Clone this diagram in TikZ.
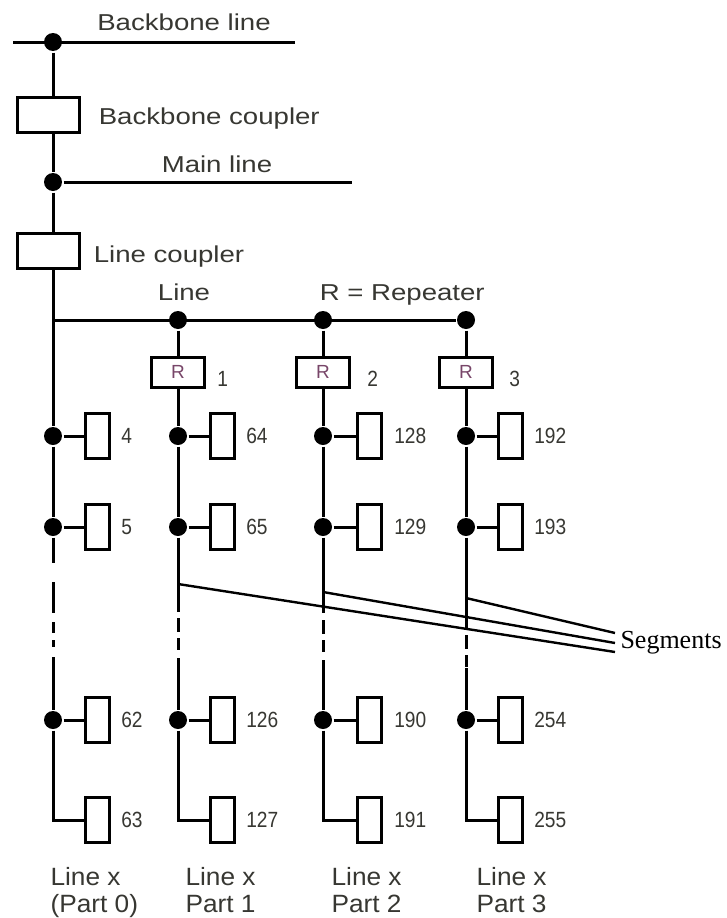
\documentclass[tikz,border=0pt]{standalone}
\usepackage{fontspec}
\setmainfont{Liberation Sans}
\newfontfamily\segserif{Liberation Serif}
\definecolor{textgray}{RGB}{55,55,50}
\definecolor{rpurple}{RGB}{120,70,105}

\begin{document}
\begin{tikzpicture}[x=1pt,y=-1pt,line width=3pt,
	junction/.style={circle,fill,inner sep=0pt,minimum size=18pt},
	coupler/.style={draw,inner sep=0pt,minimum width=62pt,minimum height=35pt},
	repeater/.style={draw,inner sep=0pt,minimum width=53pt,minimum height=30pt,text=rpurple,font=\fontsize{19}{19}\selectfont},
	device/.style={draw,inner sep=0pt,minimum width=24pt,minimum height=45pt},
	busname/.style={inner sep=0pt,text=textgray,font=\fontsize{23}{23}\selectfont,xscale=1.2},
	addr/.style={anchor=west,inner sep=0pt,text=textgray,font=\fontsize{22}{22}\selectfont,xscale=0.87},
	partname/.style={anchor=base west,align=left,inner sep=0pt,text=textgray,font=\fontsize{25}{27}\selectfont,xscale=1.05},
	broken/.style={dash pattern=on 14pt off 6pt on 12pt off 20pt},
	brokenlong/.style={dash pattern=on 31pt off 9pt on 11pt off 7pt on 7pt off 20pt}]
			\useasboundingbox (0,0) rectangle (727,918);

			% Backbone line and backbone coupler
			\coordinate (bbL) at (13,42);
			\coordinate (bbR) at (295,42);
			\draw (bbL) -- (bbR);
			\node[junction] (bbdot) at (53,42) {};
			\node[busname,anchor=base] (bbtext) at (184,30) {Backbone line};
			\node[coupler] (bbc) at (48.5,115) {};
			\node[busname,anchor=base west] (bbctext) at (97,124) {Backbone coupler};

			% Main line and line coupler
			\coordinate (mlR) at (352,182);
			\node[junction] (mldot) at (53,182) {};
			\draw (mldot) -- (mlR);
			\node[busname,anchor=base] (mltext) at (217,172) {Main line};
			\node[coupler] (lc) at (48.5,250.5) {};
			\node[busname,anchor=base west] (lctext) at (92,262) {Line coupler};

			\draw (bbdot) -- (bbdot |- bbc.north);
			\draw (bbdot |- bbc.south) -- (mldot);
			\draw (mldot) -- (mldot |- lc.north);

			% The line, with its three repeaters
			\coordinate (ln0) at (53,320);
			\node[junction] (ld1) at (178,320) {};
			\node[junction] (ld2) at (323,320) {};
			\node[junction] (ld3) at (466,320) {};
			\draw (ln0 |- lc.south) -- (ln0) -- (ld3);
			\node[busname,anchor=base] (lntext) at (184,300) {Line};
			\node[busname,anchor=base west] (rtext) at (318,300) {R = Repeater};

			\node[repeater] (r1) at (178,372) {R};
			\node[repeater] (r2) at (323,372) {R};
			\node[repeater] (r3) at (466,372) {R};
			\node[addr] (r1num) at (216,379) {1};
			\node[addr] (r2num) at (366,379) {2};
			\node[addr] (r3num) at (508,379) {3};
			\draw (ld1) -- (r1);
			\draw (ld2) -- (r2);
			\draw (ld3) -- (r3);

			% Part 0
			\node[junction] (j01) at (53,436) {};
			\node[junction] (j02) at (53,527) {};
			\node[junction] (j03) at (53,720) {};
			\coordinate (a0) at (53,563);
			\coordinate (b0) at (53,582);
			\coordinate (c0) at (53,657);
			\node[device] (d01) at (97,436) {};
			\node[device] (d02) at (97,527) {};
			\node[device] (d03) at (97,720) {};
			\node[device] (d04) at (97,820) {};
			\draw (ln0) -- (j01) -- (j02) -- (a0);
			\draw[brokenlong] (b0) -- (c0);
			\draw (c0) -- (j03) |- (d04);
			\draw (j01) -- (d01);
			\draw (j02) -- (d02);
			\draw (j03) -- (d03);
			\node[addr] (n01) at (120,436) {4};
			\node[addr] (n02) at (120,527) {5};
			\node[addr] (n03) at (120,720) {62};
			\node[addr] (n04) at (120,820) {63};

			% Part 1
			\node[junction] (j11) at (178,436) {};
			\node[junction] (j12) at (178,527) {};
			\node[junction] (j13) at (178,720) {};
			\coordinate (a1) at (178,612);
			\coordinate (b1) at (178,618);
			\coordinate (c1) at (178,658);
			\node[device] (d11) at (222,436) {};
			\node[device] (d12) at (222,527) {};
			\node[device] (d13) at (222,720) {};
			\node[device] (d14) at (222,820) {};
			\draw (r1) -- (j11) -- (j12) -- (a1);
			\draw[broken] (b1) -- (c1);
			\draw (c1) -- (j13) |- (d14);
			\draw (j11) -- (d11);
			\draw (j12) -- (d12);
			\draw (j13) -- (d13);
			\node[addr] (n11) at (245,436) {64};
			\node[addr] (n12) at (245,527) {65};
			\node[addr] (n13) at (245,720) {126};
			\node[addr] (n14) at (245,820) {127};

			% Part 2
			\node[junction] (j21) at (323,436) {};
			\node[junction] (j22) at (323,527) {};
			\node[junction] (j23) at (323,720) {};
			\coordinate (a2) at (323,613);
			\coordinate (b2) at (323,620);
			\coordinate (c2) at (323,660);
			\node[device] (d21) at (369,436) {};
			\node[device] (d22) at (369,527) {};
			\node[device] (d23) at (369,720) {};
			\node[device] (d24) at (369,820) {};
			\draw (r2) -- (j21) -- (j22) -- (a2);
			\draw[broken] (b2) -- (c2);
			\draw (c2) -- (j23) |- (d24);
			\draw (j21) -- (d21);
			\draw (j22) -- (d22);
			\draw (j23) -- (d23);
			\node[addr] (n21) at (393,436) {128};
			\node[addr] (n22) at (393,527) {129};
			\node[addr] (n23) at (393,720) {190};
			\node[addr] (n24) at (393,820) {191};

			% Part 3
			\node[junction] (j31) at (466,436) {};
			\node[junction] (j32) at (466,527) {};
			\node[junction] (j33) at (466,720) {};
			\coordinate (a3) at (466,628);
			\coordinate (b3) at (466,635);
			\coordinate (c3) at (466,668);
			\node[device] (d31) at (510,436) {};
			\node[device] (d32) at (510,527) {};
			\node[device] (d33) at (510,720) {};
			\node[device] (d34) at (510,820) {};
			\draw (r3) -- (j31) -- (j32) -- (a3);
			\draw[broken] (b3) -- (c3);
			\draw (c3) -- (j33) |- (d34);
			\draw (j31) -- (d31);
			\draw (j32) -- (d32);
			\draw (j33) -- (d33);
			\node[addr] (n31) at (533,436) {192};
			\node[addr] (n32) at (533,527) {193};
			\node[addr] (n33) at (533,720) {254};
			\node[addr] (n34) at (533,820) {255};

			% Segments
			\coordinate (s1) at (178,584);
			\coordinate (s2) at (323,592);
			\coordinate (s3) at (466,598);
			\coordinate (e1) at (615,652);
			\coordinate (e2) at (615,643);
			\coordinate (e3) at (615,633);
			\draw[line width=2.4pt] (s1) -- (e1);
			\draw[line width=2.4pt] (s2) -- (e2);
			\draw[line width=2.4pt] (s3) -- (e3);
			\node[anchor=west,inner sep=0pt,font=\segserif\fontsize{26}{26}\selectfont] (segtext) at (619,643) {Segments};

			% Part names (base is the second line)
			\node[partname] (p0) at (49,912) {Line x\\(Part 0)};
			\node[partname] (p1) at (184,912) {Line x\\Part 1};
			\node[partname] (p2) at (330,912) {Line x\\Part 2};
			\node[partname] (p3) at (475,912) {Line x\\Part 3};

			\end{tikzpicture}
\end{document}
